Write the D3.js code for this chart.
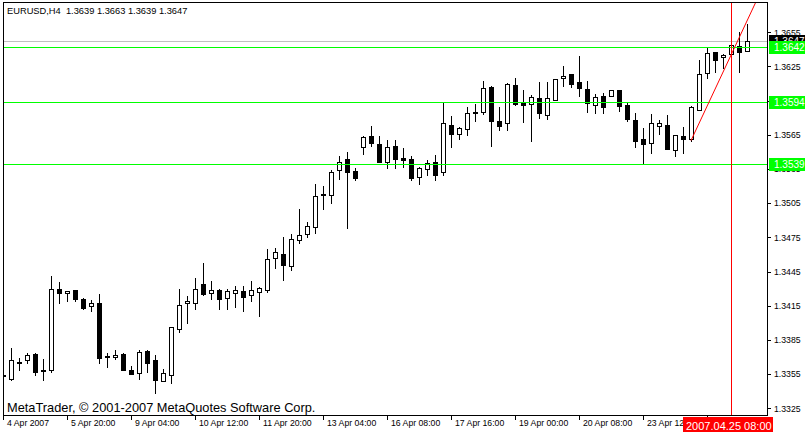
<!DOCTYPE html>
<html>
<head>
<meta charset="utf-8">
<script src="https://cdn.jsdelivr.net/npm/d3@7"></script>
<style>
  html, body { margin: 0; padding: 0; background: #fff; }
  svg { display: block; }
</style>
</head>
<body>
<div id="chart"></div>
<script>
// EURUSD H4 candles (bar 0 = left edge)
var opens  = [1.3354,1.3351,1.3366,1.3367,1.3373,1.3358,1.3359,1.3430,1.3426,1.3429,
              1.3421,1.3415,1.3417,1.3371,1.3370,1.3373,1.3359,1.3356,1.3375,1.3367,
              1.3349,1.3354,1.3395,1.3417,1.3417,1.3434,1.3426,1.3429,1.3422,1.3426,
              1.3428,1.3424,1.3427,1.3429,1.3457,1.3460,1.3450,1.3473,1.3478,1.3484,
              1.3513,1.3512,1.3534,1.3544,1.3533,1.3554,1.3564,1.3557,1.3541,1.3555,
              1.3545,1.3544,1.3528,1.3535,1.3541,1.3532,1.3574,1.3566,1.3570,1.3585,
              1.3585,1.3607,1.3577,1.3575,1.3609,1.3593,1.3592,1.3597,1.3582,1.3596,
              1.3615,1.3618,1.3611,1.3605,1.3591,1.3599,1.3599,1.3604,1.3591,1.3578,
              1.3561,1.3558,1.3573,1.3574,1.3552,1.3564,1.3561,1.3587,1.3619,1.3638,
              1.3633,1.3636,1.3643,1.3639];
var highs  = [1.3371,1.3379,1.3370,1.3374,1.3374,1.3369,1.3442,1.3437,1.3429,1.3430,
              1.3423,1.3421,1.3426,1.3374,1.3377,1.3374,1.3363,1.3377,1.3377,1.3373,
              1.3360,1.3397,1.3431,1.3424,1.3440,1.3453,1.3438,1.3431,1.3431,1.3433,
              1.3433,1.3438,1.3432,1.3466,1.3467,1.3476,1.3479,1.3501,1.3489,1.3523,
              1.3521,1.3535,1.3547,1.3551,1.3537,1.3565,1.3574,1.3565,1.3561,1.3561,
              1.3554,1.3547,1.3538,1.3544,1.3548,1.3594,1.3582,1.3573,1.3590,1.3593,
              1.3613,1.3609,1.3590,1.3611,1.3616,1.3605,1.3601,1.3612,1.3612,1.3614,
              1.3626,1.3619,1.3635,1.3613,1.3602,1.3603,1.3605,1.3604,1.3594,1.3585,
              1.3572,1.3584,1.3579,1.3583,1.3566,1.3573,1.3591,1.3632,1.3642,1.3639,
              1.3637,1.3649,1.3656,1.3663];
var lows   = [1.3337,1.3350,1.3359,1.3365,1.3354,1.3350,1.3357,1.3417,1.3419,1.3419,
              1.3412,1.3410,1.3365,1.3361,1.3368,1.3359,1.3355,1.3351,1.3357,1.3338,
              1.3349,1.3347,1.3392,1.3400,1.3412,1.3424,1.3421,1.3412,1.3412,1.3414,
              1.3410,1.3419,1.3406,1.3427,1.3448,1.3438,1.3446,1.3470,1.3475,1.3479,
              1.3500,1.3505,1.3526,1.3483,1.3525,1.3548,1.3555,1.3541,1.3536,1.3536,
              1.3537,1.3525,1.3522,1.3530,1.3525,1.3530,1.3554,1.3561,1.3565,1.3577,
              1.3583,1.3555,1.3569,1.3569,1.3591,1.3576,1.3560,1.3580,1.3579,1.3596,
              1.3608,1.3607,1.3599,1.3585,1.3584,1.3584,1.3599,1.3586,1.3577,1.3554,
              1.3539,1.3549,1.3566,1.3553,1.3546,1.3549,1.3560,1.3587,1.3615,1.3620,
              1.3624,1.3636,1.3620,1.3639];
var closes = [1.3353,1.3367,1.3365,1.3372,1.3357,1.3359,1.3430,1.3426,1.3428,1.3421,
              1.3413,1.3417,1.3369,1.3370,1.3372,1.3359,1.3355,1.3374,1.3365,1.3350,
              1.3356,1.3396,1.3416,1.3419,1.3430,1.3425,1.3429,1.3421,1.3428,1.3429,
              1.3423,1.3429,1.3431,1.3456,1.3462,1.3451,1.3474,1.3477,1.3485,1.3511,
              1.3512,1.3532,1.3541,1.3532,1.3527,1.3563,1.3558,1.3541,1.3554,1.3544,
              1.3543,1.3527,1.3536,1.3540,1.3530,1.3575,1.3566,1.3571,1.3584,1.3584,
              1.3606,1.3577,1.3573,1.3610,1.3592,1.3591,1.3598,1.3584,1.3597,1.3614,
              1.3617,1.3610,1.3606,1.3593,1.3598,1.3589,1.3604,1.3590,1.3579,1.3560,
              1.3557,1.3575,1.3575,1.3553,1.3565,1.3561,1.3589,1.3618,1.3637,1.3631,
              1.3635,1.3644,1.3638,1.3647];

var priceTicks = [1.3325,1.3355,1.3385,1.3415,1.3445,1.3475,1.3505,1.3535,1.3565,1.3595,1.3625,1.3655];
var timeTickBars = [0,8,16,24,32,40,48,56,64,72,80,88];
var timeTickLabels = ["4 Apr 2007","5 Apr 20:00","9 Apr 04:00","10 Apr 12:00","11 Apr 20:00",
                      "13 Apr 04:00","16 Apr 08:00","17 Apr 16:00","19 Apr 00:00","20 Apr 08:00",
                      "23 Apr 12:00",""];   // last one sits under the red time label

var levelPrices = [1.3642, 1.3594, 1.3539];   // green horizontal lines
var bidPrice = 1.3647;
var vlineBar = 91;
var vlineLabel = "2007.04.25 08:00";
var trendBars = [86, 93];
var trendPrices = [1.3560, 1.3665];
var titleText = "EURUSD,H4  1.3639 1.3663 1.3639 1.3647";
var copyText = "MetaTrader, \u00A9 2001-2007 MetaQuotes Software Corp.";

var svgWidth = 805;
var svgHeight = 432;

var plot = { left: 3, right: 767, top: 2, bottom: 415 };
var font = "'Liberation Sans', Arial, sans-serif";

var svg = d3.select("#chart")
  .append("svg")
  .attr("width", svgWidth)
  .attr("height", svgHeight);

var x = d3.scaleLinear()
  .domain([0, 93])
  .range([3, 747]);

var y = d3.scaleLinear()
  .domain([1.3325, 1.3655])
  .range([408.3, 32.3]);

function px(v) { return Math.round(v) + 0.5; }

svg.append("clipPath")
  .attr("id", "plotclip")
  .append("rect")
  .attr("x", plot.left)
  .attr("y", plot.top)
  .attr("width", plot.right - plot.left)
  .attr("height", plot.bottom - plot.top);

var chartGroup = svg.append("g")
  .attr("clip-path", "url(#plotclip)")
  .attr("shape-rendering", "crispEdges");

var bars = d3.range(opens.length).map(function(i) {
  return { i: i, o: opens[i], h: highs[i], l: lows[i], c: closes[i] };
});

// bid line
chartGroup.append("line")
  .attr("x1", plot.left).attr("x2", plot.right)
  .attr("y1", px(y(bidPrice))).attr("y2", px(y(bidPrice)))
  .attr("stroke", "#c0c0c0");

// wicks
chartGroup.selectAll(".wick")
  .data(bars)
  .enter()
  .append("line")
  .attr("class", "wick")
  .attr("x1", d => px(x(d.i)))
  .attr("x2", d => px(x(d.i)))
  .attr("y1", d => px(y(d.h)))
  .attr("y2", d => px(y(d.l)))
  .attr("stroke", "#000");

// bodies
chartGroup.selectAll(".body")
  .data(bars)
  .enter()
  .append("rect")
  .attr("class", "body")
  .attr("x", d => px(x(d.i)) - 2)
  .attr("width", 4)
  .attr("y", d => px(y(Math.max(d.o, d.c))))
  .attr("height", d => px(y(Math.min(d.o, d.c))) - px(y(Math.max(d.o, d.c))))
  .attr("fill", d => d.c >= d.o ? "#fff" : "#000")
  .attr("stroke", "#000");

// green levels
chartGroup.selectAll(".level")
  .data(levelPrices)
  .enter()
  .append("line")
  .attr("class", "level")
  .attr("x1", plot.left).attr("x2", plot.right)
  .attr("y1", d => px(y(d))).attr("y2", d => px(y(d)))
  .attr("stroke", "#00ff00");

// vertical line
chartGroup.append("line")
  .attr("x1", px(x(vlineBar))).attr("x2", px(x(vlineBar)))
  .attr("y1", plot.top).attr("y2", plot.bottom)
  .attr("stroke", "#ff0000");

// trend line (ray to the right)
var slope = (y(trendPrices[1]) - y(trendPrices[0])) / (x(trendBars[1]) - x(trendBars[0]));
var tx0 = x(trendBars[0]), ty0 = y(trendPrices[0]);
svg.append("g")
  .attr("clip-path", "url(#plotclip)")
  .append("line")
  .attr("x1", tx0).attr("y1", ty0)
  .attr("x2", tx0 + 200).attr("y2", ty0 + slope * 200)
  .attr("stroke", "#ff0000")
  .attr("stroke-width", 1);

// frame and scales
var frame = svg.append("g").attr("shape-rendering", "crispEdges").attr("stroke", "#000");
frame.append("line").attr("x1", plot.left).attr("x2", plot.right + 1).attr("y1", plot.top + 0.5).attr("y2", plot.top + 0.5);
frame.append("line").attr("x1", plot.left + 0.5).attr("x2", plot.left + 0.5).attr("y1", plot.top).attr("y2", plot.bottom);
frame.append("line").attr("x1", plot.right + 0.5).attr("x2", plot.right + 0.5).attr("y1", plot.top).attr("y2", plot.bottom + 1);
frame.append("line").attr("x1", plot.left).attr("x2", plot.right + 1).attr("y1", plot.bottom + 0.5).attr("y2", plot.bottom + 0.5);

// price scale
var pAxis = svg.append("g");
pAxis.selectAll("line")
  .data(priceTicks)
  .enter()
  .append("line")
  .attr("shape-rendering", "crispEdges")
  .attr("x1", plot.right + 1).attr("x2", plot.right + 4)
  .attr("y1", d => px(y(d))).attr("y2", d => px(y(d)))
  .attr("stroke", "#000");
pAxis.selectAll("text")
  .data(priceTicks)
  .enter()
  .append("text")
  .attr("x", 774)
  .attr("y", d => y(d) + 3.2)
  .style("font-family", font)
  .style("font-size", "8.7px")
  .attr("fill", "#000")
  .text(d => d.toFixed(4));

// time scale
var tAxis = svg.append("g");
tAxis.selectAll("line")
  .data(timeTickBars)
  .enter()
  .append("line")
  .attr("shape-rendering", "crispEdges")
  .attr("x1", d => px(x(d))).attr("x2", d => px(x(d)))
  .attr("y1", plot.bottom + 1).attr("y2", plot.bottom + 5)
  .attr("stroke", "#000");
tAxis.selectAll("text")
  .data(timeTickBars)
  .enter()
  .append("text")
  .attr("x", d => px(x(d)) + 3.5)
  .attr("y", 426)
  .style("font-family", font)
  .style("font-size", "8.7px")
  .attr("fill", "#000")
  .text((d, k) => timeTickLabels[k]);

// price labels on the scale
function priceLabel(p, color) {
  var yy = Math.round(y(p));
  svg.append("rect")
    .attr("x", 769).attr("y", yy - 6)
    .attr("width", 40).attr("height", 13)
    .attr("fill", color);
  svg.append("text")
    .attr("x", 774).attr("y", yy + 4)
    .style("font-family", font)
    .style("font-size", "10px")
    .attr("fill", "#fff")
    .text(p.toFixed(4));
}
priceLabel(bidPrice, "#000");
levelPrices.forEach(function(p) { priceLabel(p, "#00ff00"); });

// time label of the vertical line
svg.append("rect")
  .attr("x", x(vlineBar) - 48).attr("y", 417)
  .attr("width", 90).attr("height", 15)
  .attr("fill", "#ff0000");
svg.append("text")
  .attr("x", x(vlineBar) - 45).attr("y", 429.5)
  .style("font-family", font)
  .style("font-size", "11px")
  .attr("fill", "#fff")
  .text(vlineLabel);

// title and copyright
svg.append("text")
  .attr("x", 7).attr("y", 13.5)
  .style("font-family", font)
  .style("font-size", "9.3px")
  .style("white-space", "pre")
  .attr("fill", "#000")
  .text(titleText);

svg.append("text")
  .attr("x", 7).attr("y", 411.5)
  .style("font-family", font)
  .style("font-size", "12.8px")
  .attr("fill", "#000")
  .text(copyText);
</script>
</body>
</html>
